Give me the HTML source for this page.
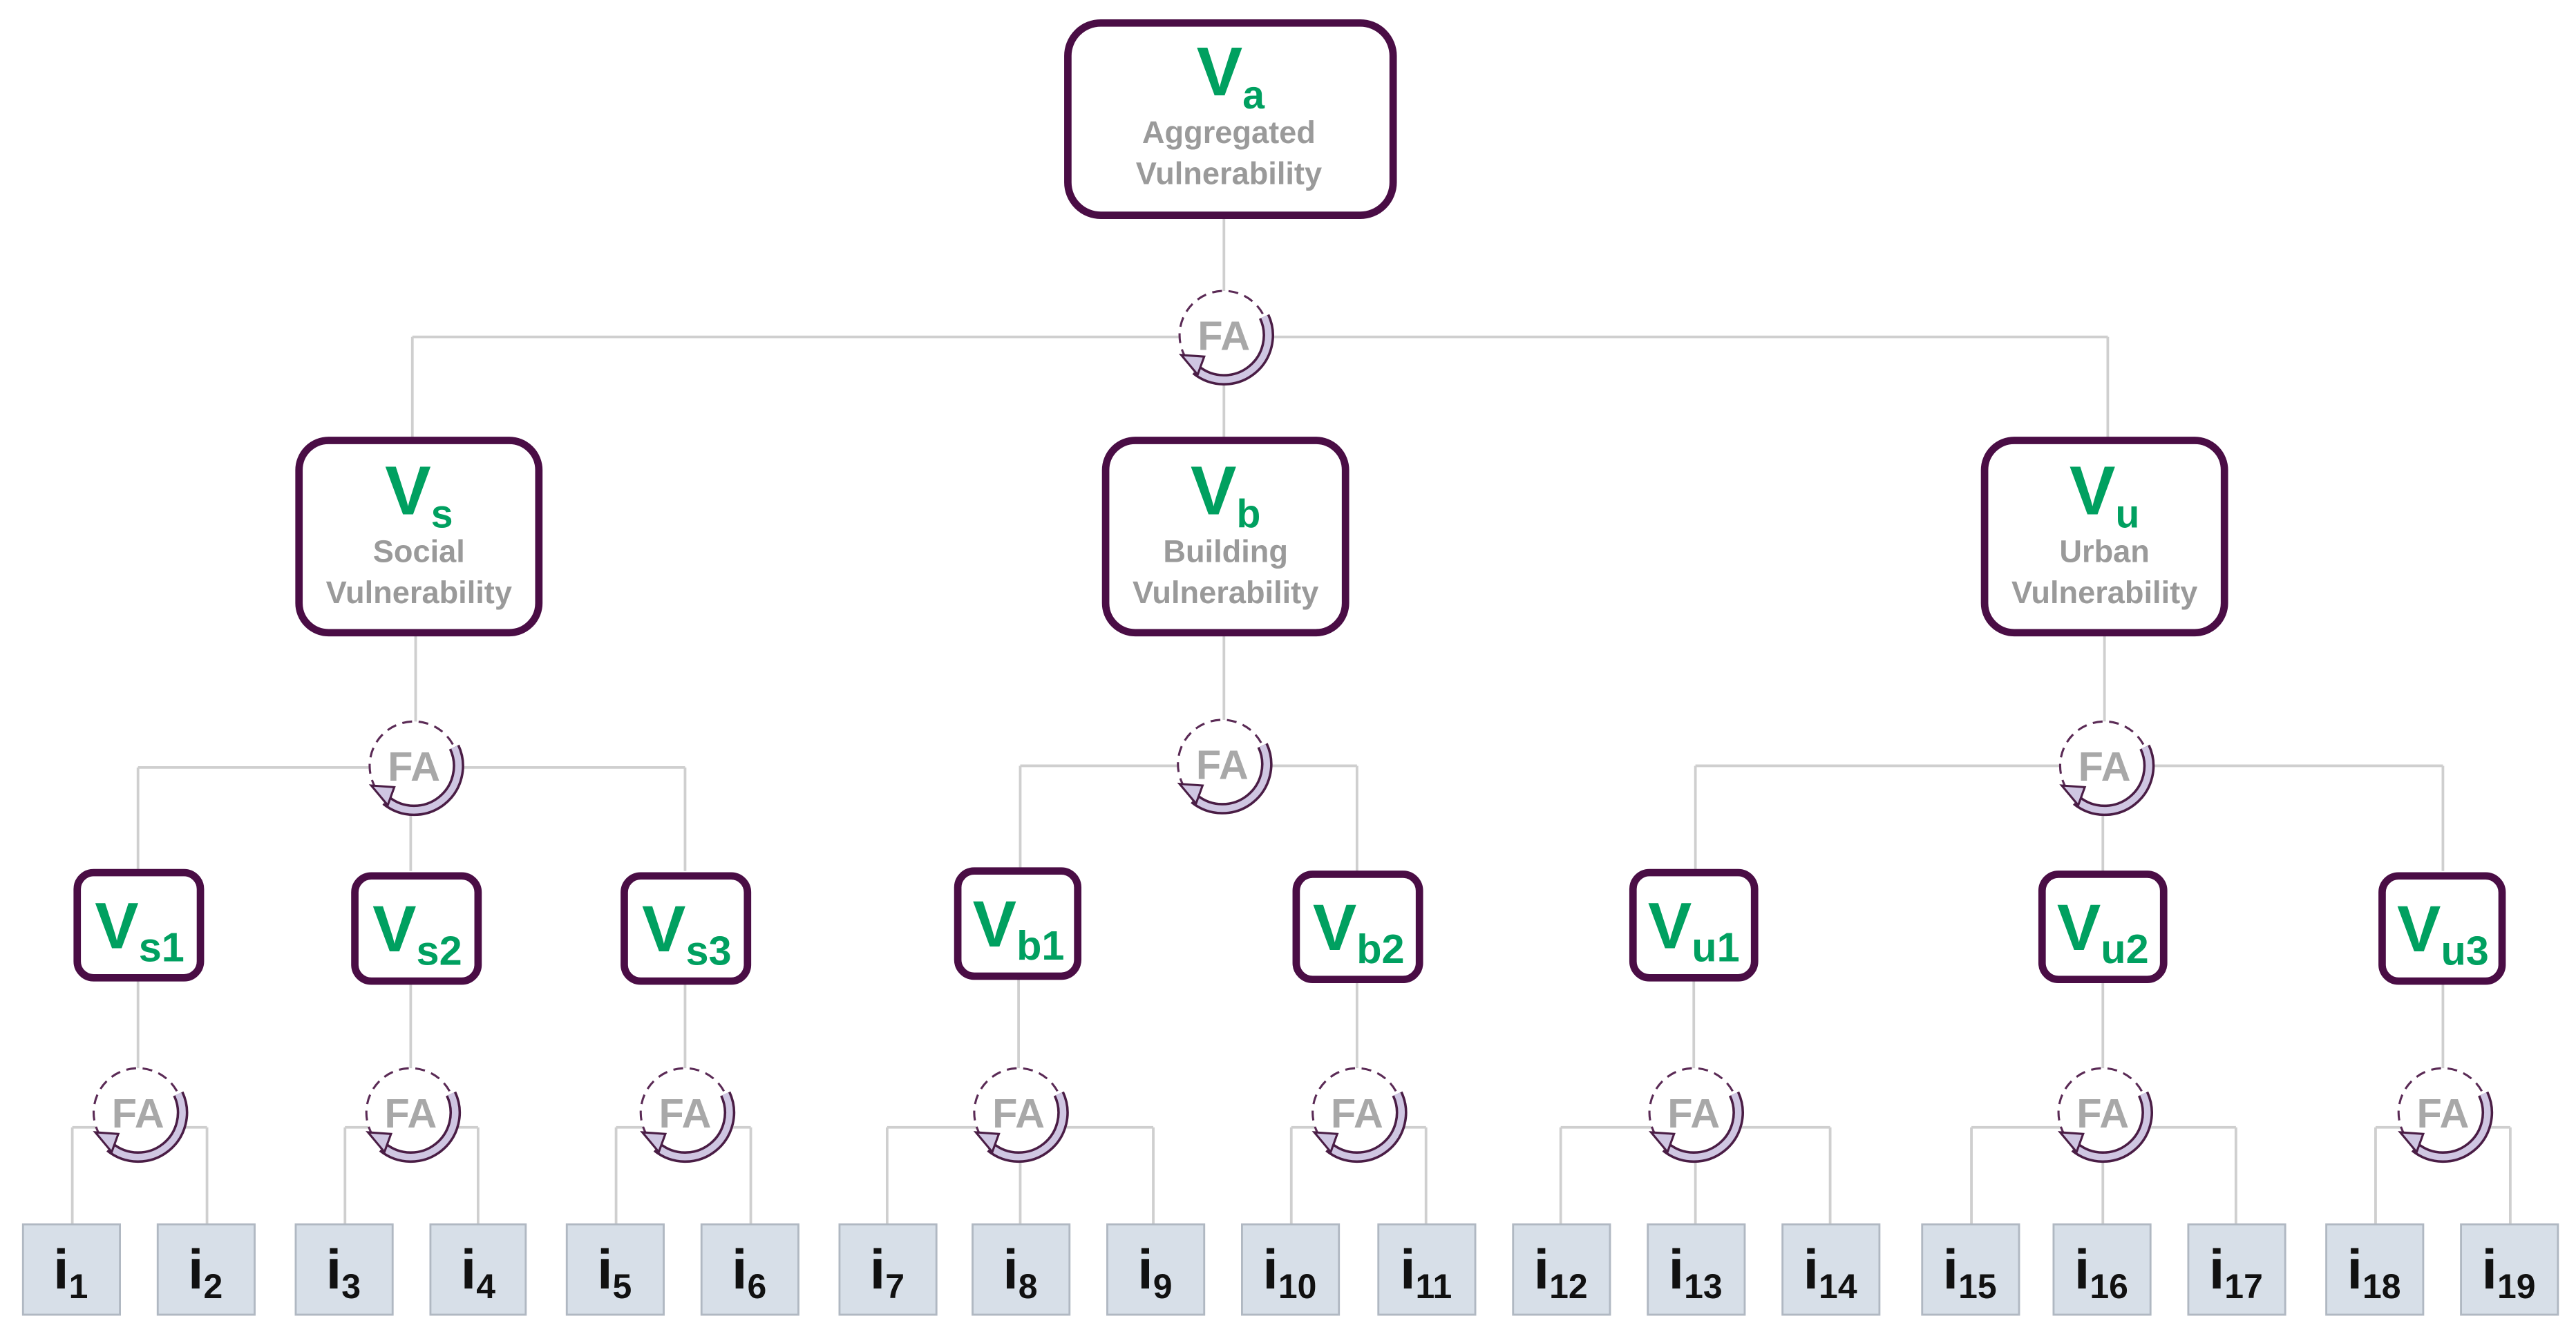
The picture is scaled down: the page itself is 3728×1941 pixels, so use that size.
<!DOCTYPE html>
<html><head><meta charset="utf-8"><style>
html,body{margin:0;padding:0;background:#fff}
svg{display:block}
text{font-family:"Liberation Sans",sans-serif;font-weight:bold}
.g{fill:#00a060}
.l{fill:#9a9a9a;font-size:19px}
.fa{fill:#a8a8a8;font-size:25px}
.k{fill:#111}
.c{stroke:#cfcfcf;stroke-width:1.6;fill:none}
.b{fill:#fff;stroke:#4a0d45;stroke-width:4.5}
.lf{fill:#d7dfe8;stroke:#b0b8c2;stroke-width:1.2}
</style></head><body>
<svg width="3728" height="1941" viewBox="0 0 1568 816" preserveAspectRatio="none">
<defs>
<g id="fa">
<circle r="27" fill="#fff" stroke="#5a2a55" stroke-width="1.3" stroke-dasharray="6,4"/>
<path d="M24.5,-11.4 A27,27 0 0 1 -17,21" fill="none" stroke="#4a1d45" stroke-width="7"/>
<path d="M24.5,-11.4 A27,27 0 0 1 -17,21" fill="none" stroke="#cfc6e2" stroke-width="4"/>
<polygon points="-26,12 -12,13 -16,24" fill="#cfc6e2" stroke="#4a1d45" stroke-width="1.3"/>
</g>
</defs>
<!-- connectors -->
<g class="c">
<path d="M745,131V204M251,205H1283M251,205V268M745,205V268M1283,205V268"/>
<path d="M253,385V466M84,467H417M84,467V530M250,467V530M417,467V530"/>
<path d="M745,385V465M621,466H826M621,466V530M826,466V530"/>
<path d="M1281,385V466M1032,466H1487M1032,466V530M1280,466V530M1487,466V530"/>
<path d="M84,595V677M44,686H126M44,686V745M126,686V745"/>
<path d="M250,595V677M210,686H291M210,686V745M291,686V745"/>
<path d="M417,595V677M375,686H457M375,686V745M457,686V745"/>
<path d="M620,595V677M540,686H702M540,686V745M621,686V745M702,686V745"/>
<path d="M826,595V677M786,686H868M786,686V745M868,686V745"/>
<path d="M1031,595V677M950,686H1114M950,686V745M1032,686V745M1114,686V745"/>
<path d="M1280,595V677M1200,686H1361M1200,686V745M1280,686V745M1361,686V745"/>
<path d="M1487,595V677M1446,686H1528M1446,686V745M1528,686V745"/>
</g>
<!-- FA nodes -->
<g>
<use href="#fa" x="745" y="204"/><text class="fa" x="745" y="213" text-anchor="middle">FA</text>
<use href="#fa" x="252" y="466"/><text class="fa" x="252" y="475" text-anchor="middle">FA</text>
<use href="#fa" x="744" y="465"/><text class="fa" x="744" y="474" text-anchor="middle">FA</text>
<use href="#fa" x="1281" y="466"/><text class="fa" x="1281" y="475" text-anchor="middle">FA</text>
<use href="#fa" x="84" y="677"/><text class="fa" x="84" y="686" text-anchor="middle">FA</text>
<use href="#fa" x="250" y="677"/><text class="fa" x="250" y="686" text-anchor="middle">FA</text>
<use href="#fa" x="417" y="677"/><text class="fa" x="417" y="686" text-anchor="middle">FA</text>
<use href="#fa" x="620" y="677"/><text class="fa" x="620" y="686" text-anchor="middle">FA</text>
<use href="#fa" x="826" y="677"/><text class="fa" x="826" y="686" text-anchor="middle">FA</text>
<use href="#fa" x="1031" y="677"/><text class="fa" x="1031" y="686" text-anchor="middle">FA</text>
<use href="#fa" x="1280" y="677"/><text class="fa" x="1280" y="686" text-anchor="middle">FA</text>
<use href="#fa" x="1487" y="677"/><text class="fa" x="1487" y="686" text-anchor="middle">FA</text>
</g>
<!-- top boxes -->
<rect class="b" x="650" y="14" width="198" height="117" rx="20"/>
<text class="g" x="749" y="58" text-anchor="middle" font-size="42">V<tspan font-size="24" dy="8">a</tspan></text>
<text class="l" x="748" y="87" text-anchor="middle">Aggregated</text>
<text class="l" x="748" y="112" text-anchor="middle">Vulnerability</text>

<rect class="b" x="182" y="268" width="146" height="117" rx="18"/>
<text class="g" x="255" y="313" text-anchor="middle" font-size="42">V<tspan font-size="24" dy="8">s</tspan></text>
<text class="l" x="255" y="342" text-anchor="middle">Social</text>
<text class="l" x="255" y="367" text-anchor="middle">Vulnerability</text>

<rect class="b" x="673" y="268" width="146" height="117" rx="18"/>
<text class="g" x="746" y="313" text-anchor="middle" font-size="42">V<tspan font-size="24" dy="8">b</tspan></text>
<text class="l" x="746" y="342" text-anchor="middle">Building</text>
<text class="l" x="746" y="367" text-anchor="middle">Vulnerability</text>

<rect class="b" x="1208" y="268" width="146" height="117" rx="18"/>
<text class="g" x="1281" y="313" text-anchor="middle" font-size="42">V<tspan font-size="24" dy="8">u</tspan></text>
<text class="l" x="1281" y="342" text-anchor="middle">Urban</text>
<text class="l" x="1281" y="367" text-anchor="middle">Vulnerability</text>

<!-- level 2 -->
<g font-size="40">
<rect class="b" x="47" y="531" width="75" height="64" rx="10"/><text class="g" x="85" y="577" text-anchor="middle">V<tspan font-size="25" dy="8">s1</tspan></text>
<rect class="b" x="216" y="533" width="75" height="64" rx="10"/><text class="g" x="254" y="579" text-anchor="middle">V<tspan font-size="25" dy="8">s2</tspan></text>
<rect class="b" x="380" y="533" width="75" height="64" rx="10"/><text class="g" x="418" y="579" text-anchor="middle">V<tspan font-size="25" dy="8">s3</tspan></text>
<rect class="b" x="583" y="530" width="73" height="64" rx="10"/><text class="g" x="620" y="576" text-anchor="middle">V<tspan font-size="25" dy="8">b1</tspan></text>
<rect class="b" x="789" y="532" width="75" height="64" rx="10"/><text class="g" x="827" y="578" text-anchor="middle">V<tspan font-size="25" dy="8">b2</tspan></text>
<rect class="b" x="994" y="531" width="74" height="64" rx="10"/><text class="g" x="1031" y="577" text-anchor="middle">V<tspan font-size="25" dy="8">u1</tspan></text>
<rect class="b" x="1243" y="532" width="74" height="64" rx="10"/><text class="g" x="1280" y="578" text-anchor="middle">V<tspan font-size="25" dy="8">u2</tspan></text>
<rect class="b" x="1450" y="533" width="73" height="64" rx="10"/><text class="g" x="1487" y="579" text-anchor="middle">V<tspan font-size="25" dy="8">u3</tspan></text>
</g>
<!-- leaves -->
<g font-size="34">
<rect class="lf" x="14" y="745" width="59" height="55"/><text class="k" x="43" y="784" text-anchor="middle">i<tspan font-size="21" dy="6">1</tspan></text>
<rect class="lf" x="96" y="745" width="59" height="55"/><text class="k" x="125" y="784" text-anchor="middle">i<tspan font-size="21" dy="6">2</tspan></text>
<rect class="lf" x="180" y="745" width="59" height="55"/><text class="k" x="209" y="784" text-anchor="middle">i<tspan font-size="21" dy="6">3</tspan></text>
<rect class="lf" x="262" y="745" width="58" height="55"/><text class="k" x="291" y="784" text-anchor="middle">i<tspan font-size="21" dy="6">4</tspan></text>
<rect class="lf" x="345" y="745" width="59" height="55"/><text class="k" x="374" y="784" text-anchor="middle">i<tspan font-size="21" dy="6">5</tspan></text>
<rect class="lf" x="427" y="745" width="59" height="55"/><text class="k" x="456" y="784" text-anchor="middle">i<tspan font-size="21" dy="6">6</tspan></text>
<rect class="lf" x="511" y="745" width="59" height="55"/><text class="k" x="540" y="784" text-anchor="middle">i<tspan font-size="21" dy="6">7</tspan></text>
<rect class="lf" x="592" y="745" width="59" height="55"/><text class="k" x="621" y="784" text-anchor="middle">i<tspan font-size="21" dy="6">8</tspan></text>
<rect class="lf" x="674" y="745" width="59" height="55"/><text class="k" x="703" y="784" text-anchor="middle">i<tspan font-size="21" dy="6">9</tspan></text>
<rect class="lf" x="756" y="745" width="59" height="55"/><text class="k" x="785" y="784" text-anchor="middle">i<tspan font-size="21" dy="6">10</tspan></text>
<rect class="lf" x="839" y="745" width="59" height="55"/><text class="k" x="868" y="784" text-anchor="middle">i<tspan font-size="21" dy="6">11</tspan></text>
<rect class="lf" x="921" y="745" width="59" height="55"/><text class="k" x="950" y="784" text-anchor="middle">i<tspan font-size="21" dy="6">12</tspan></text>
<rect class="lf" x="1003" y="745" width="59" height="55"/><text class="k" x="1032" y="784" text-anchor="middle">i<tspan font-size="21" dy="6">13</tspan></text>
<rect class="lf" x="1085" y="745" width="59" height="55"/><text class="k" x="1114" y="784" text-anchor="middle">i<tspan font-size="21" dy="6">14</tspan></text>
<rect class="lf" x="1170" y="745" width="59" height="55"/><text class="k" x="1199" y="784" text-anchor="middle">i<tspan font-size="21" dy="6">15</tspan></text>
<rect class="lf" x="1250" y="745" width="59" height="55"/><text class="k" x="1279" y="784" text-anchor="middle">i<tspan font-size="21" dy="6">16</tspan></text>
<rect class="lf" x="1332" y="745" width="59" height="55"/><text class="k" x="1361" y="784" text-anchor="middle">i<tspan font-size="21" dy="6">17</tspan></text>
<rect class="lf" x="1416" y="745" width="59" height="55"/><text class="k" x="1445" y="784" text-anchor="middle">i<tspan font-size="21" dy="6">18</tspan></text>
<rect class="lf" x="1498" y="745" width="59" height="55"/><text class="k" x="1527" y="784" text-anchor="middle">i<tspan font-size="21" dy="6">19</tspan></text>
</g>
</svg>
</body></html>
